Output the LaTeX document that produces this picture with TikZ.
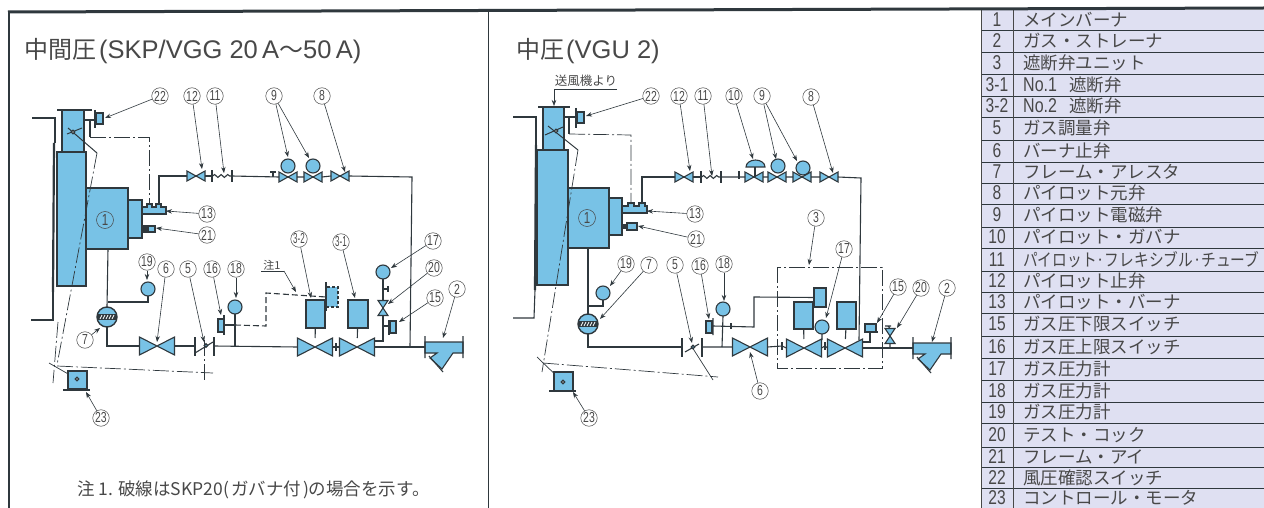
\documentclass[tikz,border=0pt]{standalone}
\usepackage{fontspec}
\usepackage{xcolor}
\setmainfont{Liberation Sans}
\newfontfamily\jp{Noto Sans CJK JP}
\usetikzlibrary{arrows.meta, decorations.pathmorphing}

\definecolor{pipecol}{HTML}{2F383D}
\definecolor{partblue}{HTML}{78C2E6}
\definecolor{numcol}{HTML}{484848}
\definecolor{rowfill}{HTML}{DFE0F2}

\tikzset{
    pipe/.style={draw=pipecol, line width=1.1pt},
    part/.style={draw=pipecol, fill=partblue, line width=1.1pt, inner sep=0pt, outer sep=0pt},
    dashpipe/.style={pipe, dash pattern=on 6pt off 3pt},
    link/.style={draw=pipecol, line width=.7pt, dash pattern=on 16pt off 3pt on 2pt off 3pt},
    thinline/.style={draw=pipecol, line width=.7pt},
    vsmall/.style={inner sep=0pt, outer sep=0pt, minimum width=18pt, minimum height=10pt},
    vbig/.style={inner sep=0pt, outer sep=0pt, minimum width=35pt, minimum height=18pt},
    vcock/.style={inner sep=0pt, outer sep=0pt, minimum width=10pt, minimum height=15pt},
    gaugenode/.style={part, circle, minimum size=14pt},
    ticknode/.style={fill=pipecol, inner sep=0pt, outer sep=0pt, minimum width=1.2pt, minimum height=#1},
    ticknode/.default=12pt,
    num/.style={circle, draw=numcol, text=numcol, line width=.5pt, fill=white, inner sep=0pt, minimum size=16.5pt, font=\fontsize{14.5}{14.5}\selectfont},
    leader/.style={draw=pipecol, line width=.6pt, -{Stealth[length=6pt,width=4.5pt]}},
    burnernum/.style={circle, draw=numcol, text=numcol, line width=.5pt, inner sep=0pt, minimum size=17pt, font=\fontsize{16}{16}\selectfont},
    titletext/.style={anchor=west, inner sep=0pt, text=numcol, font=\fontsize{25.5}{25.5}\selectfont},
    rowtext/.style={anchor=west, inner sep=0pt, text=numcol, font=\jp\fontsize{17.5}{17.5}\selectfont},
    rownum/.style={inner sep=0pt, text=numcol, font=\fontsize{20}{20}\selectfont}
}

\newcommand{\nn}[1]{\scalebox{.72}[1]{#1}}
\newcommand{\nns}[1]{\scalebox{.55}[1]{#1}}
\newcommand{\nolabel}[1]{{\fontspec{Liberation Sans}\fontsize{20}{20}\selectfont\scalebox{.8}[1]{#1}}\hspace{12pt}}
\newcommand{\jpt}[1]{{\jp\fontsize{24}{24}\selectfont #1}}
\newcommand{\valve}[3]{\node[#1] (#2) at (#3) {};
    \draw[part] (#2.north west) -- (#2.south east) -- (#2.north east) -- (#2.south west) -- cycle;}
\newcommand{\cock}[2]{\node[vcock] (#1) at (#2) {};
    \draw[part] (#1.north west) -- (#1.north east) -- (#1.south west) -- (#1.south east) -- cycle;}
\newcommand{\callout}[4]{\node[num] (#1) at (#3) {#2};
    \coordinate (#1t) at (#4);
    \draw[leader] (#1) -- (#1t);}
\newcommand{\arrester}[2]{\node[part, circle, minimum size=20pt, line width=1.4pt] (#1) at (#2) {};
    \fill[pipecol] ([shift={(-9.5,-3)}]#1.center) rectangle ([shift={(9.5,3)}]#1.center);
    \foreach \x in {-7,-4,-1,2,5}
        \draw[white, line width=.8pt] ([shift={(\x,2)}]#1.center) -- ([shift={(\x+2,-2)}]#1.center);}
\newcommand{\strainer}[2]{\coordinate (#1) at (#2);
    \begin{scope}[shift={(#2)}]
        \draw[part] (0,-5) -- (38,-5) -- (38,6) -- (28,6) -- (17,22) -- (5,11) -- (12,6) -- (0,6) -- cycle;
        \draw[pipe] (0,-11) -- (0,11) (38,-11) -- (38,11) (4,9) -- (18,25);
    \end{scope}}

\begin{document}
\begin{tikzpicture}[x=1pt, y=-1pt]
    \useasboundingbox (0,0) rectangle (1264,508);

    % table
    \fill[rowfill] (981,10) rectangle (1264,508);
    \foreach \y in {30,52,74,96,117,140,162,183,204,227,248,271,292,313,336,358,380,402,423,447,467,488}
        \draw[pipecol, line width=.8pt] (981,\y) -- (1264,\y);
    \draw[numcol, line width=.7pt] (981,10) -- (981,508) (1013,10) -- (1013,508);
    \foreach \y/\n/\t [count=\i] in {
        20/1/メインバーナ, 41/2/ガス・ストレーナ, 63/3/遮断弁ユニット,
        85/3-1/\nolabel{No.1}遮断弁,
        106/3-2/\nolabel{No.2}遮断弁,
        128/5/ガス調量弁, 151/6/バーナ止弁, 172/7/フレーム・アレスタ,
        193/8/パイロット元弁, 215/9/パイロット電磁弁, 237/10/パイロット・ガバナ,
        260/11/{\scalebox{.84}[1]{パイロット·フレキシブル·チューブ}},
        281/12/パイロット止弁, 302/13/パイロット・バーナ, 324/15/ガス圧下限スイッチ,
        347/16/ガス圧上限スイッチ, 369/17/ガス圧力計, 391/18/ガス圧力計,
        412/19/ガス圧力計, 435/20/テスト・コック, 457/21/フレーム・アイ,
        478/22/風圧確認スイッチ, 498/23/コントロール・モータ} {
        \node[rownum] (rown\i) at (997,\y) {\scalebox{.78}[1]{\n}};
        \node[rowtext] (rowt\i) at (1023,\y) {\t};
    }

    % frame
    \draw[pipecol, line width=3pt] (8,12) -- (1264,8);
    \draw[pipecol, line width=2.4pt] (9,11) -- (9,508);
    \draw[pipecol, line width=.8pt] (488,11) -- (488,508);

    \node[titletext] (atitle) at (24,51)
        {\jpt{中間圧}\hspace{3pt}(SKP/VGG 20\,A\jpt{～}50\,A)};
    \node[titletext] (btitle) at (516,51)
        {\jpt{中圧}\hspace{2pt}(VGU 2)};
    \node[anchor=west, inner sep=0pt, text=numcol, font=\jp\fontsize{17.5}{17.5}\selectfont] (anote) at (77,490)
        {注 1. 破線はSKP20({\hspace{2pt}}ガバナ付{\hspace{2pt}})の場合を示す。};

    % left diagram, SKP/VGG
    \draw[pipe] (32,118) -- (55,118) -- (55,143);
    \draw[pipe, line width=2.2pt] (54,143) -- (53,292);
    \draw[pipe] (53,292) -- (53,320) -- (31,320);
    \draw[part] (62,110) rectangle (84,152);
    \draw[pipe] (57,110) -- (92,110);
    \draw[part] (57,152) rectangle (86,286);
    \draw[part] (86,188) rectangle (128,249);
    \node[burnernum] (aburner) at (105,220) {\nn{1}};
    \draw[part] (128,200) rectangle (142,238);
    \draw[part] (142,207) -- (147,207) -- (147,204) -- (152,204) -- (152,207) -- (156,207) -- (156,204) -- (161,204) -- (161,207) -- (166,207) -- (166,214) -- (142,214) -- cycle;
    \draw[part] (148,226) rectangle (155,232);
    \fill[pipecol] (142,225) rectangle (148,233);

    % air pressure switch
    \node[part, minimum width=7pt, minimum height=11pt] (asw22) at (99.5,118.5) {};
    \draw[pipe] (95,110) -- (95,128) (84,120) -- (95,120);
    \draw[pipe] (90,120) -- (90,137);
    \draw[link] (90,137) -- (149,137) -- (149,205);

    % damper and linkage
    \draw[thinline, line width=1pt] (67,134) -- (82,128) (68,128) -- (97,153);
    \node[part, circle, minimum size=3.5pt, fill=white] (adamper) at (73,132) {};
    \draw[link] (97,153) -- (57,365);
    \draw[link] (58,322) -- (53,383);
    \draw[thinline] (49,363) -- (77,379);
    \draw[link] (57,366) -- (213,373);
    \draw[link] (204,340) -- (204,380);
    \draw[part] (68,371) rectangle (87,389);
    \draw[pipe] (63,390) -- (90,390);
    \node[part, circle, minimum size=3.5pt, fill=white] (amotor) at (77,379) {};

    % pilot line
    \valve{vsmall}{av12}{196,176}
    \node[ticknode] (at1) at (212,176) {};
    \node[ticknode] (at2) at (232,176) {};
    \valve{vsmall}{av9a}{288,177}
    \valve{vsmall}{av9b}{313,177}
    \valve{vsmall}{av8}{340,176}
    \coordinate (acorner) at (412,177);
    \draw[pipe] (159,204) -- (159,176) -- (av12.west);
    \draw[pipe] (av12.east) -- (at1);
    \draw[pipe, decorate, decoration={snake, amplitude=1.5pt, segment length=6.5pt}] (at1) -- (at2);
    \draw[pipe] (at2) -- (av9a.west) (av9a.east) -- (av9b.west) (av9b.east) -- (av8.west) (av8.east) -- (acorner) -- (410,347);
    \draw[pipe] (270,172) -- (276,172) (273,172) -- (273,177);
    \node[gaugenode] (ag9a) at (288,166) {};
    \node[gaugenode] (ag9b) at (313,166) {};

    % main line
    \arrester{a7}{107,317}
    \node[gaugenode] (ag19) at (148,289) {};
    \valve{vbig}{av6}{157,346}
    \node[ticknode=19pt] (at5a) at (195,346) {};
    \node[ticknode=19pt] (at5b) at (214,346) {};
    \valve{vbig}{av32}{315,347}
    \valve{vbig}{av31}{357,347}
    \node[ticknode=8pt] (at3) at (336,347) {};
    \node[gaugenode] (ag18) at (235,307) {};
    \node[part, minimum width=6pt, minimum height=13pt] (asw16) at (221,325.5) {};
    \node[part, minimum width=19pt, minimum height=28pt] (aact32) at (315.5,314) {};
    \node[part, minimum width=20pt, minimum height=28pt] (aact31) at (358,314) {};
    \node[part, minimum width=12pt, minimum height=20pt, dash pattern=on 3pt off 2pt] (aact32b) at (332,297) {};
    \strainer{astr}{425,347}
    \draw[pipe] (108,249) -- (a7.north);
    \draw[pipe] (108,302) -- (148,302) -- (ag19.south);
    \draw[pipe] (a7.south) -- (107,346) -- (av6.west);
    \draw[pipe] (av6.east) -- (at5a);
    \draw[pipe] (195,353) -- (213,342);
    \node[part, circle, minimum size=3.5pt] (av5) at (206,345.5) {};
    \draw[pipe] (at5b) -- (av32.west);
    \draw[pipe] (av32.east) -- (at3) -- (av31.west);
    \draw[pipe] (av31.east) -- (astr);
    \draw[pipe] (ag18.south) -- (235,346.5);
    \draw[pipe] (224,315) -- (224,335) (224,325) -- (235,325);
    \draw[dashpipe] (235,325) -- (266,326) -- (266,293) -- (aact32b.west);
    \draw[pipe] (326,282) -- (326,311);
    \draw[pipe] (aact32) -- (av32) (aact31) -- (av31);

    % gauge branch
    \node[gaugenode] (ag17) at (383,272) {};
    \cock{av20}{383,308}
    \node[part, minimum width=6pt, minimum height=12pt] (asw15) at (393,327) {};
    \draw[pipe] (375,341) -- (383,341) -- (av20.south) (av20.north) -- (ag17.south);
    \draw[pipe] (383,289) -- (388,289) (388,286) -- (388,292);
    \draw[pipe] (383,326) -- (389,326) (389,320) -- (389,335);

    \callout{an22}{\nn{22}}{160,96}{105,118}
    \callout{an12}{\nn{12}}{192,96}{202,169}
    \callout{an11}{\nn{11}}{215,96}{224,173}
    \callout{an9}{\nn{9}}{274,96}{288,157}
    \draw[leader] (an9) -- (309,158);
    \callout{an8}{\nn{8}}{322,96}{345,172}
    \callout{an13}{\nn{13}}{207,214}{166,211}
    \callout{an21}{\nn{21}}{207,235}{156,228}
    \callout{an19}{\nn{19}}{147,262}{147,280}
    \callout{an6}{\nn{6}}{166,269}{157,342}
    \callout{an5}{\nn{5}}{188,269}{204,342}
    \callout{an16}{\nn{16}}{212,269}{221,315}
    \callout{an18}{\nn{18}}{236,269}{236,298}
    \callout{an7}{\nn{7}}{85,340}{100,328}
    \callout{an23}{\nn{23}}{101,418}{86,392}
    \callout{an32}{\nns{3-2}}{299,239}{311,298}
    \callout{an31}{\nns{3-1}}{341,242}{355,298}
    \callout{an17}{\nn{17}}{433,241}{391,268}
    \callout{an20}{\nn{20}}{434,268}{388,304}
    \callout{an15}{\nn{15}}{435,298}{399,322}
    \callout{an2}{\nn{2}}{457,289}{443,338}
    \node[inner sep=0pt, text=numcol, font=\jp\fontsize{11}{11}\selectfont] (anote1) at (272,265) {注1};
    \coordinate (anote1a) at (261,271);
    \coordinate (anote1b) at (284,271);
    \coordinate (anote1c) at (296,292);
    \draw[thinline] (anote1a) -- (anote1b);
    \draw[leader] (anote1b) -- (anote1c);

    % right diagram, VGU
    \draw[pipe] (513,117) -- (536,117) -- (536,145);
    \draw[pipe, line width=2.2pt] (536,145) -- (535,290);
    \draw[pipe] (535,290) -- (534,318) -- (513,318);
    \draw[part] (543,107) rectangle (564,150);
    \draw[pipe] (538,107) -- (570,107);
    \draw[part] (537,150) rectangle (568,285);
    \draw[part] (568,188) rectangle (609,248);
    \node[burnernum] (bburner) at (587,218) {\nn{1}};
    \draw[part] (609,198) rectangle (622,235);
    \draw[part] (622,206) -- (628,206) -- (628,203) -- (634,203) -- (634,206) -- (639,206) -- (639,203) -- (645,203) -- (645,206) -- (647,206) -- (647,213) -- (622,213) -- cycle;
    \draw[part] (627,223) rectangle (637,230);
    \fill[pipecol] (622,224) rectangle (627,229);

    \node[inner sep=0pt, text=numcol, font=\jp\fontsize{12.5}{12.5}\selectfont] (bfan) at (586,81) {送風機より};
    \coordinate (bfana) at (617,89);
    \coordinate (bfanb) at (554,89);
    \coordinate (bfanc) at (554,106);
    \draw[thinline] (bfana) -- (bfanb);
    \draw[leader] (bfanb) -- (bfanc);

    \node[part, minimum width=7pt, minimum height=11pt] (bsw22) at (580.5,117.5) {};
    \draw[pipe] (576,108) -- (576,128) (564,117) -- (576,117);
    \draw[pipe] (569,117) -- (569,134);
    \draw[link] (569,134) -- (631,135) -- (631,204);

    \draw[thinline, line width=1pt] (545,135) -- (563,127) (548,126) -- (578,150);
    \node[part, circle, minimum size=3.5pt, fill=white] (bdamper) at (556,131) {};
    \draw[link] (578,150) -- (542,372);
    \draw[thinline] (537,357) -- (563,382);
    \draw[link] (543,363) -- (718,377);
    \draw[thinline] (692,347) -- (713,380);
    \draw[part] (554,372) rectangle (573,391);
    \draw[pipe] (549,391) -- (576,391);
    \node[part, circle, minimum size=3.5pt, fill=white] (bmotor) at (563,382) {};

    % pilot line
    \valve{vsmall}{bv12}{684,177}
    \node[ticknode] (bt1) at (701,177) {};
    \node[ticknode] (bt2) at (721,177) {};
    \node[ticknode=8pt] (bt3) at (739,175) {};
    \valve{vsmall}{bv10}{754,177}
    \valve{vsmall}{bv9a}{777,177}
    \valve{vsmall}{bv9b}{802,177}
    \valve{vsmall}{bv8}{829,177}
    \coordinate (bcorner) at (861,178);
    \draw[pipe] (642,204) -- (642,177) -- (bv12.west);
    \draw[pipe] (bv12.east) -- (bt1);
    \draw[pipe, decorate, decoration={snake, amplitude=1.5pt, segment length=6.5pt}] (bt1) -- (bt2);
    \draw[pipe] (bt2) -- (bv10.west) (bv10.east) -- (bv9a.west) (bv9a.east) -- (bv9b.west) (bv9b.east) -- (bv8.west) (bv8.east) -- (bcorner) -- (859,340);
    \node[gaugenode] (bg9a) at (778,166) {};
    \node[gaugenode] (bg9b) at (803,168) {};
    \draw[part] (746,167) arc[start angle=180, end angle=0, x radius=9.5pt, y radius=7pt] -- cycle;
    \draw[pipe] (755,167) -- (755,177);

    % main line
    \arrester{b7}{588,324}
    \node[gaugenode] (bg19) at (603,293) {};
    \node[ticknode=19pt] (bt5a) at (682,347) {};
    \node[ticknode=19pt] (bt5b) at (702,347) {};
    \valve{vbig}{bv6}{750,347}
    \node[ticknode=8pt] (bt6) at (782,346) {};
    \valve{vbig}{bv32}{804,348}
    \node[ticknode=8pt] (bt32) at (825,346) {};
    \valve{vbig}{bv31}{845,348}
    \node[gaugenode] (bg18) at (723,309) {};
    \node[part, minimum width=6pt, minimum height=12pt] (bsw16) at (709,327) {};
    \node[part, minimum width=19pt, minimum height=27pt] (bact32) at (803.5,315.5) {};
    \node[part, minimum width=19pt, minimum height=27pt] (bact31) at (846.5,315.5) {};
    \node[part, minimum width=12pt, minimum height=19pt] (bact32b) at (820,297.5) {};
    \node[gaugenode] (bg17) at (822,327) {};
    \strainer{bstr}{913,348}
    \draw[pipe] (588,247) -- (b7.north);
    \draw[pipe] (588,306) -- (603,306) -- (bg19.south);
    \draw[pipe] (b7.south) -- (588,347) -- (bt5a);
    \draw[pipe] (685,352) -- (699,344);
    \node[part, circle, minimum size=3.5pt] (bv5) at (693,347) {};
    \draw[pipe] (bt5b) -- (bv6.west) (bv6.east) -- (bt6) -- (bv32.west);
    \draw[pipe] (bv32.east) -- (bt32) -- (bv31.west);
    \draw[pipe] (bv31.east) -- (bstr);
    \draw[pipe] (bg18.south) -- (722,347);
    \draw[pipe] (713,318) -- (713,335) (713,326) -- (754,327) -- (754,297) -- (bact32b.west);
    \node[ticknode=6pt] (bt16) at (731,326) {};
    \draw[pipe] (bact32) -- (bv32) (bact31) -- (bv31) (bg17.south) -- (822,340);
    \draw[link] (777,267) rectangle (882,368);

    \node[part, minimum width=11pt, minimum height=8pt] (bsw15) at (870.5,328) {};
    \draw[pipe] (864,332) -- (878,332) (870,332) -- (870,342) -- (863,342);
    \cock{bv20}{890,336}
    \draw[pipe] (bv20.south) -- (890,348) (bv20.north) -- (888,326) (885,326) -- (891,326);

    \callout{bn22}{\nn{22}}{651,96}{586,116}
    \callout{bn12}{\nn{12}}{679,96}{690,171}
    \callout{bn11}{\nn{11}}{703,96}{712,176}
    \callout{bn10}{\nn{10}}{734,96}{753,159}
    \callout{bn9}{\nn{9}}{762,96}{776,159}
    \draw[leader] (bn9) -- (797,161);
    \callout{bn8}{\nn{8}}{811,97}{833,173}
    \callout{bn13}{\nn{13}}{695,214}{647,211}
    \callout{bn21}{\nn{21}}{696,239}{638,226}
    \callout{bn19}{\nn{19}}{626,264}{610,286}
    \callout{bn7}{\nn{7}}{649,265}{600,319}
    \callout{bn5}{\nn{5}}{675,265}{692,343}
    \callout{bn16}{\nn{16}}{700,266}{709,319}
    \callout{bn18}{\nn{18}}{724,264}{724,301}
    \callout{bn6}{\nn{6}}{760,391}{750,352}
    \callout{bn23}{\nn{23}}{589,418}{573,392}
    \callout{bn3}{\nn{3}}{816,218}{809,265}
    \callout{bn17}{\nn{17}}{844,249}{826,318}
    \callout{bn15}{\nn{15}}{898,287}{877,323}
    \callout{bn20}{\nn{20}}{921,288}{897,328}
    \callout{bn2}{\nn{2}}{947,288}{932,342}

\end{tikzpicture}
\end{document}
